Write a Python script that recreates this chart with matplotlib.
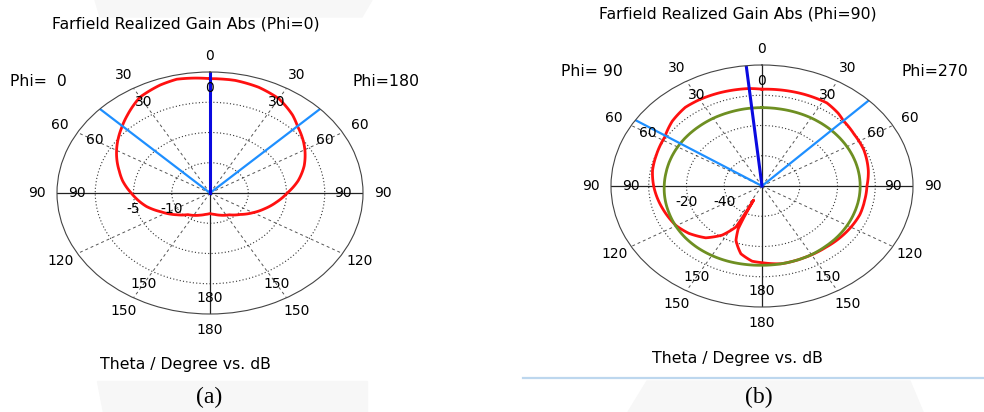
#!/usr/bin/env python3
"""Farfield realized gain cuts, two CST-style elliptical polar panels -> out.png"""
import numpy as np
import matplotlib
matplotlib.use("Agg")
import matplotlib.pyplot as plt
from matplotlib.lines import Line2D
from matplotlib.patches import Polygon
from matplotlib.transforms import offset_copy

W, H = 984, 412

# ---------------- data ----------------
# theta in degrees, clockwise from the top of the plot; gain in dB
theta_a = [0, 10, 20, 30, 40, 46, 55, 61, 70, 80, 90, 100, 110, 120, 132, 145,
           160, 170, 180, 190, 200, 219, 230, 244, 255, 270, 280, 287, 300,
           313, 320, 330, 340, 347, 354, 360]
gain_a = [3.9, 3.9, 3.6, 3.0, 1.8, 0.9, -0.1, -0.8, -1.9, -3.3, -4.9, -6.2,
          -7.4, -8.5, -9.7, -10.6, -11.1, -11.4, -11.6, -11.4, -11.1, -10.4,
          -9.4, -7.9, -6.4, -4.7, -3.4, -2.6, -0.9, 0.8, 1.8, 3.3, 4.0, 4.3,
          4.1, 3.9]
main_dir_a = 0
beam_edges_a = [46, 314]
rings_a = [-10, -5, 0]
ring_labels_a = [-10, -5]
rlim_a = (-15, 5)

theta_b = [0, 10, 20, 32, 40, 45, 55, 66, 80, 90, 100, 110, 120, 130, 140,
           155, 169, 180, 186, 194, 201, 204, 204.8, 205.5, 206.2, 207, 213,
           221, 231, 240, 254, 270, 280, 290, 302, 312, 322, 330, 340, 354, 360]
gain_b = [4.0, 4.3, 4.6, 4.8, 2.8, 1.0, -0.4, -1.0, -2.8, -4.4, -4.8, -4.8,
          -5.6, -6.4, -7.2, -7.6, -7.6, -9.3, -10.0, -13.8, -21.5, -29.0,
          -37.4, -49.7, -39.8, -29.6, -21.3, -14.6, -10.2, -7.5, -5.3, -2.6,
          -1.1, -0.4, 0.8, 4.0, 6.0, 6.0, 5.6, 4.8, 4.0]
theta_b2 = [0, 10, 20, 30, 40, 50, 60, 70, 80, 90, 100, 110, 120, 130, 140,
            150, 160, 170, 180, 190, 200, 210, 220, 230, 240, 250, 260, 270,
            280, 290, 300, 310, 320, 330, 340, 350, 360]
gain_b2 = [-8.2, -8.2, -8.1, -8.0, -8.0, -8.0, -8.0, -8.0, -8.0, -8.0, -8.0,
           -8.0, -7.9, -7.8, -7.8, -7.6, -7.6, -7.6, -7.6, -7.4, -7.1, -6.9,
           -6.8, -6.9, -7.2, -7.6, -7.9, -8.2, -8.4, -8.4, -8.4, -8.4, -8.4,
           -8.3, -8.3, -8.2, -8.2]
main_dir_b = 354
beam_edges_b = [45, 303]
rings_b = [-40, -20, 0]
ring_labels_b = [-40, -20]
rlim_b = (-60, 20)

tick_angles = [0, 30, 60, 90, 120, 150, 180, 210, 240, 270, 300, 330]
tick_text = ["0", "30", "60", "90", "120", "150", "180",
             "150", "120", "90", "60", "30"]
inner_skip = [120, 240]

RED, GREEN = "#ff1010", "#6e8f22"
LBLUE, DBLUE = "#1e8fff", "#0a0ae0"
FS_NUM, FS_TXT = 10, 11.3


def px(x, y):
    return x / W, 1 - y / H


def draw_panel(rect, rlim, rings, ring_labels, curves, main_dir, beam_edges):
    ax = fig.add_axes(rect, projection="polar")
    ax.set_aspect("auto")          # CST draws the polar grid stretched
    ax.set_theta_zero_location("N")
    ax.set_theta_direction(-1)
    ax.set_ylim(*rlim)
    ax.set_thetagrids(tick_angles, labels=[])
    ax.set_rgrids(rings, labels=[])
    ax.xaxis.grid(True, color="#555555", lw=0.7, ls=(0, (3, 3)))
    ax.yaxis.grid(True, color="#333333", lw=0.8, ls=(0, (1, 2)))
    ax.tick_params(length=0)
    ax.spines["polar"].set_color("#444444")
    ax.spines["polar"].set_linewidth(0.8)
    for a in (0, 90, 180, 270):
        ax.axvline(np.deg2rad(a), color="#222222", lw=0.9)

    for th, g, c in curves:
        line, = ax.plot(np.deg2rad(th), g, color=c, lw=2.0)
        # let the polar transform bend each segment instead of a straight chord
        line.get_path()._interpolation_steps = 12
    for a in beam_edges:
        ax.axvline(np.deg2rad(a), color=LBLUE, lw=1.6)
    ax.axvline(np.deg2rad(main_dir), color=DBLUE, lw=2.2)

    span = rlim[1] - rlim[0]
    for a, t in zip(tick_angles, tick_text):
        ax.text(np.deg2rad(a), rlim[0] + 1.13 * span, t, ha="center",
                va="center", fontsize=FS_NUM)
        if a not in inner_skip:
            ax.text(np.deg2rad(a), rlim[0] + 0.87 * span, t, ha="center",
                    va="center", fontsize=FS_NUM)
    lab_tr = offset_copy(ax.transData, fig=fig, x=0, y=-16, units="dots")
    for v in ring_labels:
        ax.text(np.deg2rad(270), v, str(v), transform=lab_tr, ha="center",
                va="center", fontsize=FS_NUM)
    return ax


fig = plt.figure(figsize=(W / 100, H / 100), dpi=100)

# faint page watermark blocks and rule
for poly in ([(95, 0), (372, 0), (362, 17), (100, 17)],
             [(97, 381), (367, 381), (367, 412), (103, 412)],
             [(647, 381), (910, 381), (923, 412), (628, 412)]):
    fig.add_artist(Polygon([px(*p) for p in poly], closed=True,
                           transform=fig.transFigure, color="#f7f7f7",
                           zorder=-5))
fig.add_artist(Line2D([523 / W, 1.0], [1 - 378 / H] * 2,
                      transform=fig.transFigure, color="#bdd7ee", lw=1.6))

draw_panel([57 / W, (H - 314) / H, 306 / W, 242 / H], rlim_a, rings_a,
           ring_labels_a, [(theta_a, gain_a, RED)], main_dir_a, beam_edges_a)
draw_panel([611 / W, (H - 307) / H, 302 / W, 242 / H], rlim_b, rings_b,
           ring_labels_b, [(theta_b, gain_b, RED), (theta_b2, gain_b2, GREEN)],
           main_dir_b, beam_edges_b)

fig.text(*px(185.5, 24), "Farfield Realized Gain Abs (Phi=0)", ha="center",
         va="center", fontsize=FS_TXT)
fig.text(*px(737.5, 14), "Farfield Realized Gain Abs (Phi=90)", ha="center",
         va="center", fontsize=FS_TXT)
fig.text(*px(38, 81), "Phi=  0", ha="center", va="center", fontsize=FS_TXT)
fig.text(*px(385.5, 81), "Phi=180", ha="center", va="center", fontsize=FS_TXT)
fig.text(*px(592, 72), "Phi= 90", ha="center", va="center", fontsize=FS_TXT)
fig.text(*px(935, 72), "Phi=270", ha="center", va="center", fontsize=FS_TXT)
fig.text(*px(185, 364), "Theta / Degree vs. dB", ha="center", va="center",
         fontsize=FS_TXT)
fig.text(*px(737.5, 358), "Theta / Degree vs. dB", ha="center", va="center",
         fontsize=FS_TXT)
fig.text(*px(209, 397), "(a)", ha="center", va="center", fontsize=17,
         family="Liberation Serif")
fig.text(*px(758.5, 397), "(b)", ha="center", va="center", fontsize=17,
         family="Liberation Serif")

fig.savefig("out.png", dpi=100)
